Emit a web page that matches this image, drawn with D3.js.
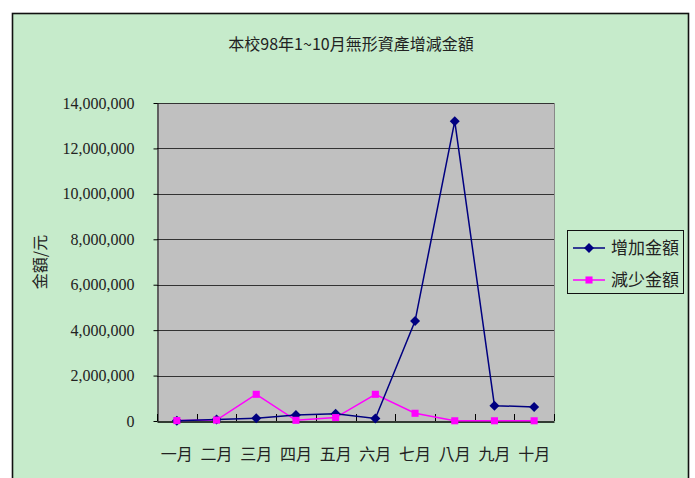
<!DOCTYPE html>
<html>
<head>
<meta charset="utf-8">
<script src="https://cdn.jsdelivr.net/npm/d3@7"></script>
<style>
  body { margin: 0; background: #fff; }
  svg { display: block; }
</style>
</head>
<body>
<svg id="chart"></svg>
<script>
// data
const months = ['一月', '二月', '三月', '四月', '五月', '六月', '七月', '八月', '九月', '十月'];
const increase = [10000, 70000, 120000, 260000, 320000, 110000, 4400000, 13200000, 675000, 620000];
const decrease = [20000, 40000, 1175000, 30000, 150000, 1175000, 340000, 10000, 10000, 10000];
const yTicks = [0, 2000000, 4000000, 6000000, 8000000, 10000000, 12000000, 14000000];
const seriesNames = ['增加金額', '減少金額'];

var width = 695;
var height = 478;
var plot = { left: 157, right: 554, top: 103, bottom: 421 };
var cjkFont = '"Noto Sans CJK TC", "Noto Sans CJK SC", sans-serif';
var numFont = '"Liberation Serif", "DejaVu Serif", serif';

var svg = d3.select('#chart')
  .attr('width', width)
  .attr('height', height);

// chart frame
svg.append('rect')
  .attr('x', 12.5).attr('y', 13.5)
  .attr('width', 676).attr('height', 480)
  .attr('fill', '#c6ebcb')
  .attr('stroke', '#111')
  .attr('stroke-width', 1.6);

// title
svg.append('text')
  .attr('x', 351).attr('y', 50)
  .attr('text-anchor', 'middle')
  .style('font-family', cjkFont)
  .style('font-size', '16px')
  .attr('fill', '#222')
  .text('本校98年1~10月無形資產增減金額');

//scales
var x = d3.scaleBand()
  .domain(months)
  .range([plot.left, plot.right])
  .padding(0);

var y = d3.scaleLinear()
  .domain([0, 14000000])
  .range([plot.bottom, plot.top]);

var cx = d => x(d) + x.bandwidth() / 2;

// plot background
svg.append('rect')
  .attr('x', plot.left).attr('y', plot.top)
  .attr('width', plot.right - plot.left)
  .attr('height', plot.bottom - plot.top)
  .attr('fill', '#c0c0c0');

// gridlines
svg.append('g')
  .selectAll('line')
  .data(yTicks.slice(1))
  .join('line')
    .attr('x1', plot.left).attr('x2', plot.right)
    .attr('y1', d => Math.round(y(d)) + 0.5)
    .attr('y2', d => Math.round(y(d)) + 0.5)
    .attr('stroke', '#333')
    .attr('stroke-width', 1);

// right border of plot
svg.append('line')
  .attr('x1', plot.right + 0.5).attr('x2', plot.right + 0.5)
  .attr('y1', plot.top).attr('y2', plot.bottom)
  .attr('stroke', '#888');

// y axis
var yAxis = svg.append('g')
  .attr('transform', 'translate(' + (plot.left + 0.5) + ',0)')
  .call(d3.axisLeft(y).tickValues(yTicks).tickSize(4).tickSizeOuter(0).tickPadding(19)
    .tickFormat(d3.format(',')));
yAxis.select('.domain').attr('stroke', '#000');
yAxis.selectAll('.tick line').attr('stroke', '#000');
yAxis.selectAll('text')
  .style('font-family', numFont)
  .style('font-size', '16px')
  .attr('fill', '#222');

// x axis, ticks at category boundaries pointing inward
var xAxis = svg.append('g')
  .attr('transform', 'translate(0,' + (plot.bottom + 0.5) + ')')
  .call(d3.axisBottom(x).tickSize(0).tickPadding(27));
xAxis.select('.domain').attr('stroke', '#000').attr('stroke-width', 1.5);
xAxis.selectAll('text')
  .style('font-family', cjkFont)
  .style('font-size', '16px')
  .attr('fill', '#222');

svg.append('g')
  .selectAll('line')
  .data(d3.range(months.length + 1))
  .join('line')
    .attr('x1', i => Math.round(plot.left + i * x.bandwidth()) + 0.5)
    .attr('x2', i => Math.round(plot.left + i * x.bandwidth()) + 0.5)
    .attr('y1', plot.bottom - 7)
    .attr('y2', plot.bottom)
    .attr('stroke', '#000');

// y axis label
svg.append('text')
  .attr('transform', 'translate(46,262) rotate(-90)')
  .attr('text-anchor', 'middle')
  .style('font-family', cjkFont)
  .style('font-size', '16px')
  .attr('fill', '#222')
  .text('金額/元');

// lines
var line = d3.line()
  .x((d, i) => cx(months[i]))
  .y(d => y(d));

var diamond = d3.symbol().type(d3.symbolDiamond2).size(64);
var square = d3.symbol().type(d3.symbolSquare2).size(64);

svg.append('path')
  .attr('d', line(decrease))
  .attr('fill', 'none')
  .attr('stroke', '#ff00ff')
  .attr('stroke-width', 1.5);

svg.append('path')
  .attr('d', line(increase))
  .attr('fill', 'none')
  .attr('stroke', '#000080')
  .attr('stroke-width', 1.5);

svg.append('g')
  .selectAll('path')
  .data(increase)
  .join('path')
    .attr('transform', (d, i) => 'translate(' + cx(months[i]) + ',' + y(d) + ')')
    .attr('d', diamond)
    .attr('fill', '#000080');

svg.append('g')
  .selectAll('path')
  .data(decrease)
  .join('path')
    .attr('transform', (d, i) => 'translate(' + cx(months[i]) + ',' + y(d) + ')')
    .attr('d', square)
    .attr('fill', '#ff00ff');

// legend
var legend = svg.append('g');
legend.append('rect')
  .attr('x', 567.5).attr('y', 230.5)
  .attr('width', 116).attr('height', 63)
  .attr('fill', 'none')
  .attr('stroke', '#111');

var legendColors = ['#000080', '#ff00ff'];
var legendShapes = [diamond, square];
seriesNames.forEach(function(name, i) {
  var ly = 248 + i * 32;
  legend.append('line')
    .attr('x1', 573).attr('x2', 605)
    .attr('y1', ly).attr('y2', ly)
    .attr('stroke', legendColors[i])
    .attr('stroke-width', 1.5);
  legend.append('path')
    .attr('transform', 'translate(589,' + ly + ')')
    .attr('d', legendShapes[i])
    .attr('fill', legendColors[i]);
  legend.append('text')
    .attr('x', 611).attr('y', ly + 6)
    .style('font-family', cjkFont)
    .style('font-size', '17px')
    .attr('fill', '#222')
    .text(name);
});
</script>
</body>
</html>
